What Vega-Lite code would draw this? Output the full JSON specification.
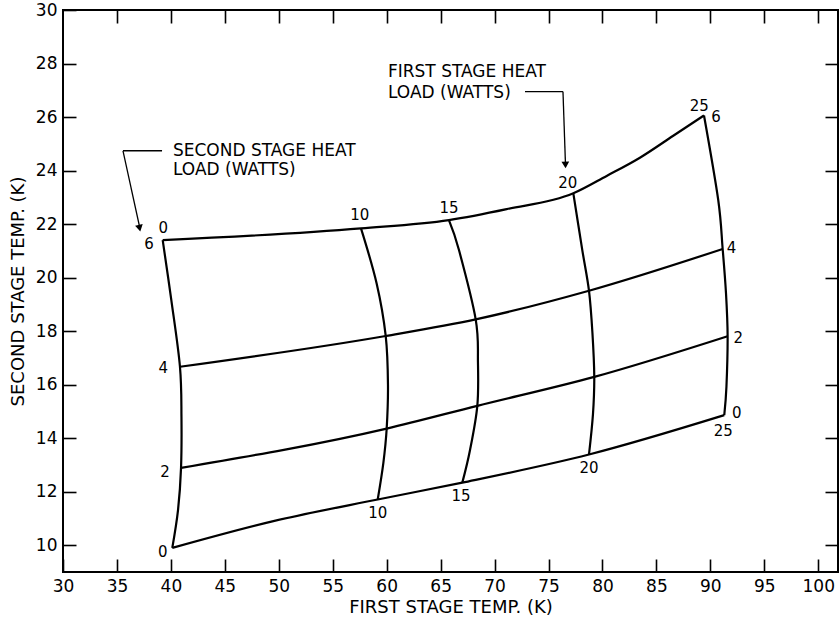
{
  "$schema": "https://vega.github.io/schema/vega-lite/v6.json",
  "width": 775,
  "height": 562,
  "autosize": {"type": "none"},
  "padding": {"left": 63, "top": 10, "right": 1, "bottom": 53},
  "background": "white",
  "config": {
    "view": {"stroke": "black", "strokeWidth": 2},
    "font": "DejaVu Sans",
    "axis": {
      "grid": false,
      "domain": false,
      "tickColor": "black",
      "tickWidth": 1.6,
      "tickSize": -13,
      "labelColor": "black",
      "labelFont": "DejaVu Sans",
      "labelFontSize": 17,
      "titleColor": "black",
      "titleFont": "DejaVu Sans",
      "titleFontSize": 18,
      "titleFontWeight": "normal"
    }
  },
  "datasets": {
    "columns": [
      {"curve": "q1_0", "seq": 0, "x": 39.24, "y": 21.40},
      {"curve": "q1_0", "seq": 1, "x": 40.04, "y": 19.16},
      {"curve": "q1_0", "seq": 2, "x": 40.84, "y": 16.67},
      {"curve": "q1_0", "seq": 3, "x": 40.98, "y": 14.80},
      {"curve": "q1_0", "seq": 4, "x": 40.94, "y": 12.89},
      {"curve": "q1_0", "seq": 5, "x": 40.66, "y": 11.31},
      {"curve": "q1_0", "seq": 6, "x": 40.13, "y": 9.90},
      {"curve": "q1_10", "seq": 0, "x": 57.62, "y": 21.84},
      {"curve": "q1_10", "seq": 1, "x": 59.07, "y": 19.78},
      {"curve": "q1_10", "seq": 2, "x": 59.91, "y": 17.82},
      {"curve": "q1_10", "seq": 3, "x": 60.12, "y": 16.00},
      {"curve": "q1_10", "seq": 4, "x": 60.00, "y": 14.36},
      {"curve": "q1_10", "seq": 5, "x": 59.69, "y": 13.07},
      {"curve": "q1_10", "seq": 6, "x": 59.17, "y": 11.71},
      {"curve": "q1_15", "seq": 0, "x": 65.77, "y": 22.15},
      {"curve": "q1_15", "seq": 1, "x": 66.70, "y": 21.03},
      {"curve": "q1_15", "seq": 2, "x": 68.25, "y": 18.44},
      {"curve": "q1_15", "seq": 3, "x": 68.46, "y": 16.84},
      {"curve": "q1_15", "seq": 4, "x": 68.40, "y": 15.21},
      {"curve": "q1_15", "seq": 5, "x": 67.72, "y": 13.55},
      {"curve": "q1_15", "seq": 6, "x": 67.01, "y": 12.34},
      {"curve": "q1_20", "seq": 0, "x": 77.30, "y": 23.15},
      {"curve": "q1_20", "seq": 1, "x": 78.13, "y": 21.03},
      {"curve": "q1_20", "seq": 2, "x": 78.75, "y": 19.51},
      {"curve": "q1_20", "seq": 3, "x": 79.07, "y": 17.93},
      {"curve": "q1_20", "seq": 4, "x": 79.24, "y": 16.29},
      {"curve": "q1_20", "seq": 5, "x": 79.12, "y": 14.90},
      {"curve": "q1_20", "seq": 6, "x": 78.75, "y": 13.39},
      {"curve": "q1_25", "seq": 0, "x": 89.41, "y": 26.06},
      {"curve": "q1_25", "seq": 1, "x": 90.73, "y": 22.90},
      {"curve": "q1_25", "seq": 2, "x": 91.14, "y": 21.07},
      {"curve": "q1_25", "seq": 3, "x": 91.45, "y": 19.41},
      {"curve": "q1_25", "seq": 4, "x": 91.60, "y": 17.81},
      {"curve": "q1_25", "seq": 5, "x": 91.49, "y": 15.92},
      {"curve": "q1_25", "seq": 6, "x": 91.29, "y": 14.86}
    ],
    "rows": [
      {"curve": "q2_6", "x": 39.24, "y": 21.40},
      {"curve": "q2_6", "x": 57.62, "y": 21.84},
      {"curve": "q2_6", "x": 65.77, "y": 22.15},
      {"curve": "q2_6", "x": 71.12, "y": 22.56},
      {"curve": "q2_6", "x": 77.30, "y": 23.15},
      {"curve": "q2_6", "x": 80.39, "y": 23.80},
      {"curve": "q2_6", "x": 83.47, "y": 24.48},
      {"curve": "q2_6", "x": 86.56, "y": 25.30},
      {"curve": "q2_6", "x": 89.41, "y": 26.06},
      {"curve": "q2_4", "x": 40.84, "y": 16.67},
      {"curve": "q2_4", "x": 59.91, "y": 17.82},
      {"curve": "q2_4", "x": 68.25, "y": 18.44},
      {"curve": "q2_4", "x": 78.75, "y": 19.51},
      {"curve": "q2_4", "x": 91.14, "y": 21.07},
      {"curve": "q2_2", "x": 40.94, "y": 12.89},
      {"curve": "q2_2", "x": 60.00, "y": 14.36},
      {"curve": "q2_2", "x": 68.40, "y": 15.21},
      {"curve": "q2_2", "x": 79.24, "y": 16.29},
      {"curve": "q2_2", "x": 91.60, "y": 17.81},
      {"curve": "q2_0", "x": 40.13, "y": 9.90},
      {"curve": "q2_0", "x": 49.50, "y": 10.90},
      {"curve": "q2_0", "x": 59.17, "y": 11.71},
      {"curve": "q2_0", "x": 67.01, "y": 12.34},
      {"curve": "q2_0", "x": 78.75, "y": 13.39},
      {"curve": "q2_0", "x": 91.29, "y": 14.86}
    ],
    "nodeLabels": [
      {"label": "0", "x": 39.30, "y": 21.84},
      {"label": "6", "x": 37.97, "y": 21.24},
      {"label": "10", "x": 57.50, "y": 22.34},
      {"label": "15", "x": 65.77, "y": 22.61},
      {"label": "20", "x": 76.78, "y": 23.52},
      {"label": "25", "x": 88.97, "y": 26.41},
      {"label": "6", "x": 90.52, "y": 26.01},
      {"label": "4", "x": 39.30, "y": 16.63},
      {"label": "2", "x": 39.45, "y": 12.74},
      {"label": "0", "x": 39.24, "y": 9.73},
      {"label": "10", "x": 59.17, "y": 11.22},
      {"label": "15", "x": 66.89, "y": 11.84},
      {"label": "20", "x": 78.75, "y": 12.87},
      {"label": "25", "x": 91.20, "y": 14.27},
      {"label": "0", "x": 92.44, "y": 14.95},
      {"label": "2", "x": 92.59, "y": 17.76},
      {"label": "4", "x": 91.97, "y": 21.09}
    ],
    "notes": [
      {"text": "SECOND STAGE HEAT", "x": 40.19, "y": 24.74},
      {"text": "LOAD (WATTS)", "x": 40.19, "y": 24.02},
      {"text": "FIRST STAGE HEAT", "x": 60.12, "y": 27.69},
      {"text": "LOAD (WATTS)", "x": 60.12, "y": 26.89}
    ],
    "leaders": [
      {"x": 39.18, "y": 24.74, "x2": 35.56, "y2": 24.74},
      {"x": 35.56, "y": 24.74, "x2": 37.15, "y2": 21.80},
      {"x": 72.82, "y": 26.95, "x2": 76.34, "y2": 26.95},
      {"x": 76.34, "y": 26.95, "x2": 76.57, "y2": 24.25}
    ],
    "headSecond": [{"x": 37.10, "y": 21.85}],
    "headFirst": [{"x": 76.57, "y": 24.21}]
  },
  "layer": [
    {
      "data": {"name": "rows"},
      "mark": {"type": "line", "color": "black", "strokeWidth": 2.2, "interpolate": "monotone"},
      "encoding": {
        "x": {
          "field": "x", "type": "quantitative",
          "scale": {"domain": [30, 101.83], "nice": false, "zero": false},
          "axis": {
            "orient": "bottom",
            "values": [30, 35, 40, 45, 50, 55, 60, 65, 70, 75, 80, 85, 90, 95, 100],
            "labelPadding": 19,
            "labelFlush": false,
            "title": "FIRST STAGE TEMP. (K)",
            "titlePadding": 4
          }
        },
        "y": {
          "field": "y", "type": "quantitative",
          "scale": {"domain": [9, 30], "nice": false, "zero": false},
          "axis": {
            "orient": "left",
            "values": [10, 12, 14, 16, 18, 20, 22, 24, 26, 28, 30],
            "labelPadding": 19,
            "labelFlush": false,
            "title": "SECOND STAGE TEMP. (K)",
            "titlePadding": 8
          }
        },
        "detail": {"field": "curve", "type": "nominal"}
      }
    },
    {
      "data": {"name": "columns"},
      "mark": {"type": "line", "color": "black", "strokeWidth": 2.2, "interpolate": "cardinal"},
      "encoding": {
        "x": {"field": "x", "type": "quantitative", "axis": null},
        "y": {"field": "y", "type": "quantitative", "axis": null},
        "detail": {"field": "curve", "type": "nominal"},
        "order": {"field": "seq", "type": "quantitative"}
      }
    },
    {
      "data": {"name": "nodeLabels"},
      "mark": {"type": "text", "color": "black", "fontSize": 15, "font": "DejaVu Sans", "align": "center", "baseline": "middle"},
      "encoding": {
        "x": {
          "field": "x", "type": "quantitative",
          "axis": {
            "orient": "top",
            "values": [35, 40, 45, 50, 55, 60, 65, 70, 75, 80, 85, 90, 95, 100],
            "labels": false,
            "title": null
          }
        },
        "y": {
          "field": "y", "type": "quantitative",
          "axis": {
            "orient": "right",
            "values": [10, 12, 14, 16, 18, 20, 22, 24, 26, 28],
            "labels": false,
            "title": null
          }
        },
        "text": {"field": "label", "type": "nominal"}
      }
    },
    {
      "data": {"name": "notes"},
      "mark": {"type": "text", "color": "black", "fontSize": 17, "font": "DejaVu Sans", "align": "left", "baseline": "middle"},
      "encoding": {
        "x": {"field": "x", "type": "quantitative", "axis": null},
        "y": {"field": "y", "type": "quantitative", "axis": null},
        "text": {"field": "text", "type": "nominal"}
      }
    },
    {
      "data": {"name": "leaders"},
      "mark": {"type": "rule", "color": "black", "strokeWidth": 1.3},
      "encoding": {
        "x": {"field": "x", "type": "quantitative", "axis": null},
        "y": {"field": "y", "type": "quantitative", "axis": null},
        "x2": {"field": "x2"},
        "y2": {"field": "y2"}
      }
    },
    {
      "data": {"name": "headSecond"},
      "mark": {"type": "point", "shape": "triangle-down", "filled": true, "color": "black", "size": 60, "angle": 348, "opacity": 1},
      "encoding": {
        "x": {"field": "x", "type": "quantitative", "axis": null},
        "y": {"field": "y", "type": "quantitative", "axis": null}
      }
    },
    {
      "data": {"name": "headFirst"},
      "mark": {"type": "point", "shape": "triangle-down", "filled": true, "color": "black", "size": 60, "angle": 358, "opacity": 1},
      "encoding": {
        "x": {"field": "x", "type": "quantitative", "axis": null},
        "y": {"field": "y", "type": "quantitative", "axis": null}
      }
    }
  ],
  "resolve": {"axis": {"x": "independent", "y": "independent"}}
}
